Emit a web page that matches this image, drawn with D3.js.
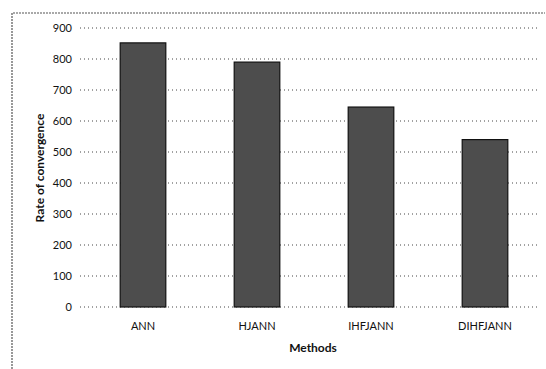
<!DOCTYPE html>
<html>
<head>
<meta charset="utf-8">
<script src="https://cdn.jsdelivr.net/npm/d3@7"></script>
<style>
  body { margin: 0; background: #fff; }
  #chart { width: 546px; height: 369px; }
  text { font-family: Lato, "Open Sans", sans-serif; fill: #111; }
</style>
</head>
<body>
<div id="chart"></div>
<script>
// Chart data
const methods = ["ANN", "HJANN", "IHFJANN", "DIHFJANN"];
const convergence = [852, 790, 645, 540];
const yTicks = [0, 100, 200, 300, 400, 500, 600, 700, 800, 900];

function drawChart() {
    const width = 546, height = 369;

    const svg = d3.select("#chart")
        .append("svg")
        .attr("width", width)
        .attr("height", height);

    // dotted outer frame (scanned border)
    svg.append("path")
        .attr("d", `M12,${height} L12,13 L545,13`)
        .attr("fill", "none")
        .attr("stroke", "#555")
        .attr("stroke-width", 1.2)
        .attr("stroke-dasharray", "2,1");

    const x = d3.scaleBand()
        .domain(methods)
        .range([86, 542])
        .paddingInner(0.6)
        .paddingOuter(0.3);

    const y = d3.scaleLinear()
        .domain([0, 900])
        .range([307, 28]);

    // gridlines
    svg.append("g")
        .selectAll("line")
        .data(yTicks)
        .join("line")
        .attr("x1", 80)
        .attr("x2", 540)
        .attr("y1", d => y(d))
        .attr("y2", d => y(d))
        .attr("stroke", "#444")
        .attr("stroke-width", 1)
        .attr("stroke-dasharray", "1,3");

    // y axis labels
    const yAxis = svg.append("g")
        .attr("transform", "translate(80,0)")
        .call(d3.axisLeft(y).tickValues(yTicks).tickSize(0).tickPadding(8));
    yAxis.select(".domain").remove();
    yAxis.selectAll("text")
        .style("font-size", "11px")
        .style("font-family", "Lato, 'Open Sans', sans-serif");

    // bars
    svg.selectAll(".bar")
        .data(methods)
        .join("rect")
        .attr("class", "bar")
        .attr("x", d => x(d))
        .attr("y", (d, i) => y(convergence[i]))
        .attr("width", x.bandwidth())
        .attr("height", (d, i) => y(0) - y(convergence[i]))
        .attr("fill", "#4d4d4d")
        .attr("stroke", "#111")
        .attr("stroke-width", 1.2);

    // x axis labels
    const xAxis = svg.append("g")
        .attr("transform", `translate(0,${y(0)})`)
        .call(d3.axisBottom(x).tickSize(0).tickPadding(15));
    xAxis.select(".domain").remove();
    xAxis.selectAll("text")
        .style("font-size", "11px")
        .style("font-family", "Lato, 'Open Sans', sans-serif");

    // axis titles
    svg.append("text")
        .attr("x", 313)
        .attr("y", 352)
        .attr("text-anchor", "middle")
        .style("font-size", "12px")
        .style("font-weight", "bold")
        .text("Methods");

    svg.append("text")
        .attr("transform", "rotate(-90)")
        .attr("x", -168)
        .attr("y", 44)
        .attr("text-anchor", "middle")
        .style("font-size", "12px")
        .style("font-weight", "bold")
        .text("Rate of convergence");
}

drawChart();
</script>
</body>
</html>
